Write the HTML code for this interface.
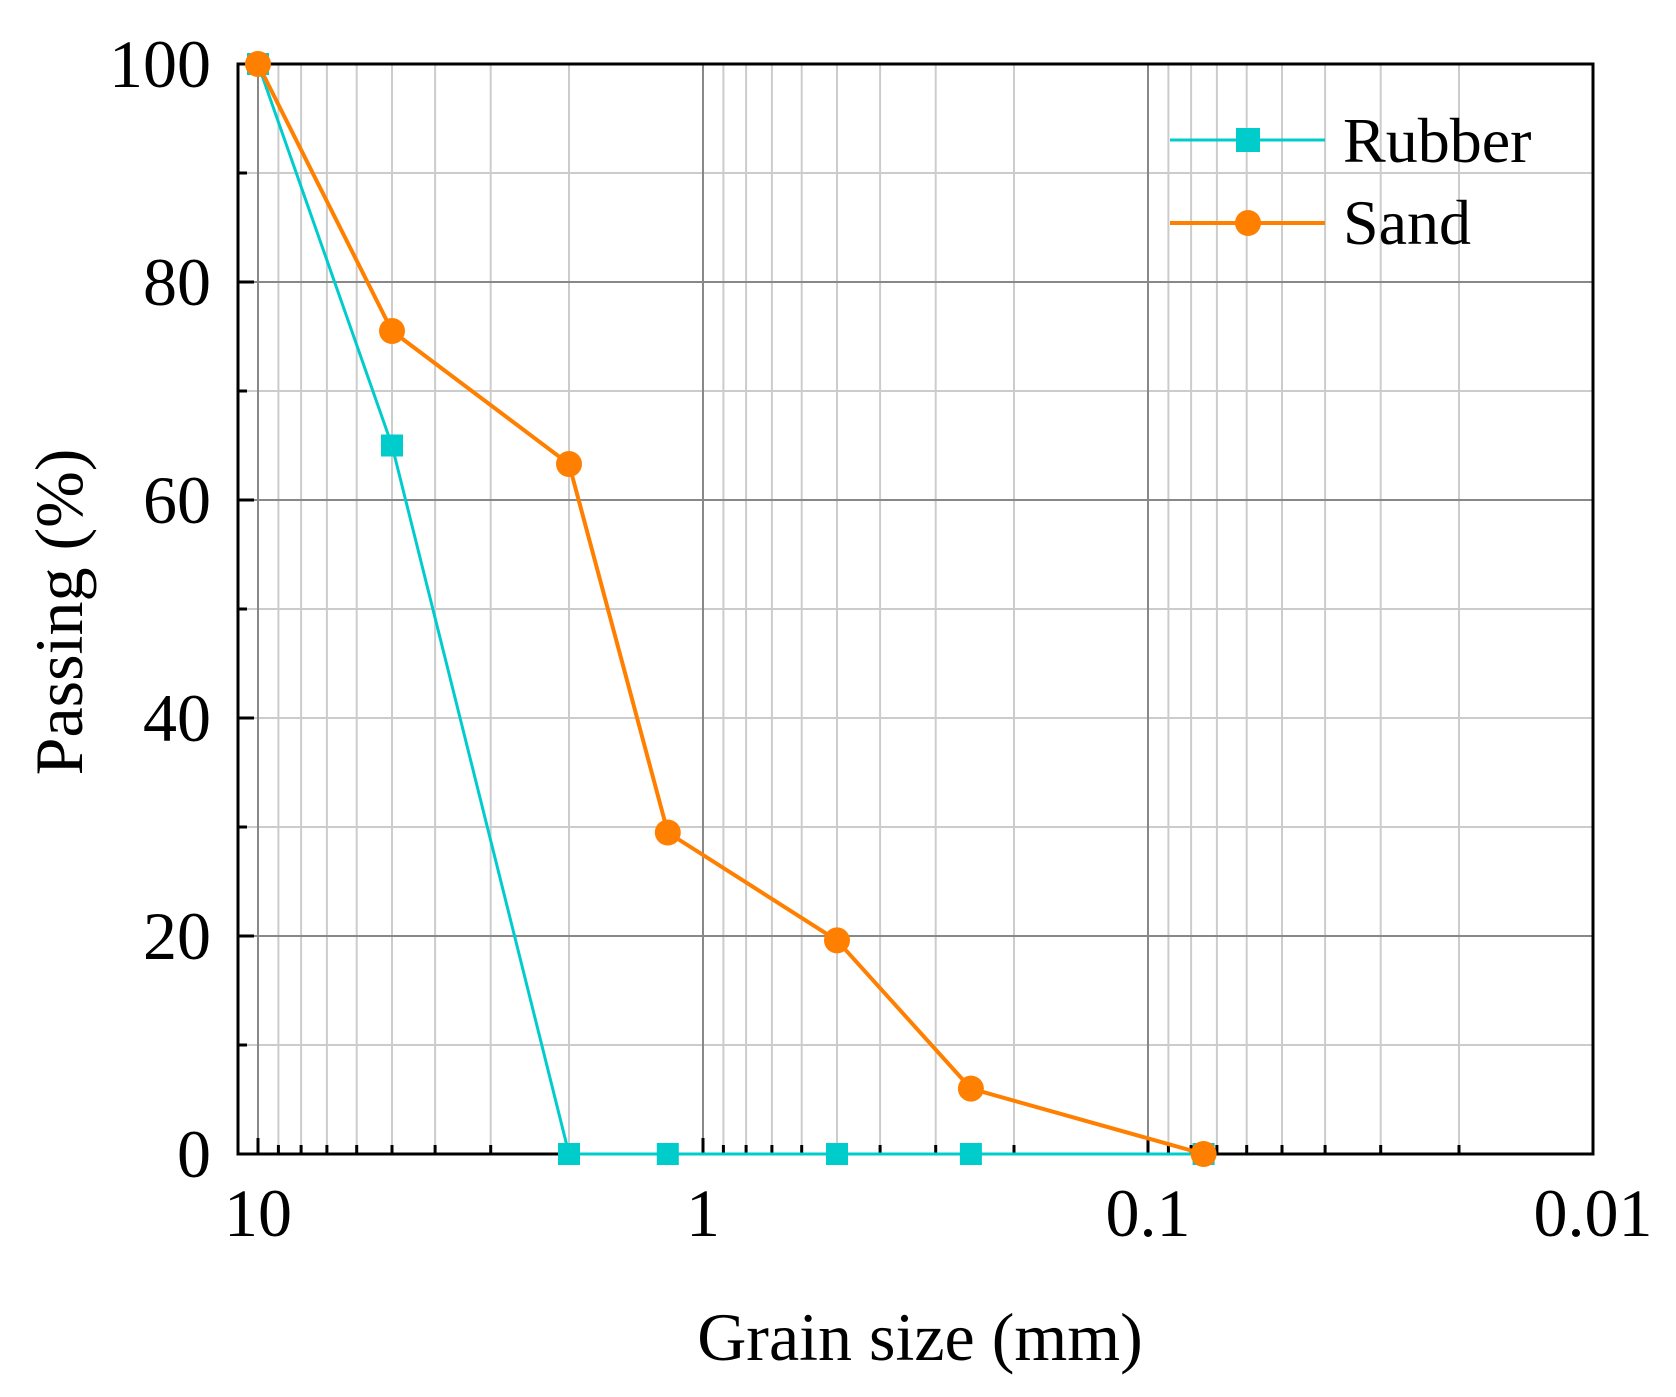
<!DOCTYPE html>
<html><head><meta charset="utf-8"><style>
html,body{margin:0;padding:0;background:#fff;}
svg{display:block;font-family:"Liberation Serif",serif;}
</style></head><body>
<svg width="1676" height="1397" viewBox="0 0 1676 1397" xmlns="http://www.w3.org/2000/svg">
<rect width="1676" height="1397" fill="#fff"/>
<!-- minor vertical grid -->
<path stroke="#ccc" stroke-width="2" fill="none" d="
M278.4 64V1154 M301.1 64V1154 M326.9 64V1154 M356.7 64V1154 M392 64V1154 M435.1 64V1154 M490.7 64V1154 M569 64V1154
M723.4 64V1154 M746.1 64V1154 M771.9 64V1154 M801.7 64V1154 M837 64V1154 M880.1 64V1154 M935.7 64V1154 M1014 64V1154
M1168.4 64V1154 M1191.1 64V1154 M1216.9 64V1154 M1246.7 64V1154 M1282 64V1154 M1325.1 64V1154 M1380.7 64V1154 M1459 64V1154
M238 1045H1593 M238 827H1593 M238 718H1593 M238 609H1593 M238 391H1593 M238 173H1593"/>
<!-- major grid -->
<path stroke="#888" stroke-width="2" fill="none" d="M258 64V1154 M703 64V1154 M1148 64V1154 M238 936H1593 M238 500H1593 M238 282H1593"/>
<!-- ticks -->
<path stroke="#000" stroke-width="3" fill="none" d="
M258 1154v-16 M703 1154v-16 M1148 1154v-16
M278.4 1154v-9 M301.1 1154v-9 M326.9 1154v-9 M356.7 1154v-9 M392 1154v-9 M435.1 1154v-9 M490.7 1154v-9 M569 1154v-9
M723.4 1154v-9 M746.1 1154v-9 M771.9 1154v-9 M801.7 1154v-9 M837 1154v-9 M880.1 1154v-9 M935.7 1154v-9 M1014 1154v-9
M1168.4 1154v-9 M1191.1 1154v-9 M1216.9 1154v-9 M1246.7 1154v-9 M1282 1154v-9 M1325.1 1154v-9 M1380.7 1154v-9 M1459 1154v-9
M238 936h16 M238 718h16 M238 500h16 M238 282h16
M238 1045h9 M238 827h9 M238 609h9 M238 391h9 M238 173h9"/>
<rect x="238" y="64" width="1355" height="1090" fill="none" stroke="#000" stroke-width="3"/>
<!-- y labels -->
<g font-size="68" text-anchor="end">
<text x="211" y="1177">0</text><text x="211" y="959">20</text><text x="211" y="741">40</text>
<text x="211" y="523">60</text><text x="211" y="305">80</text><text x="211" y="87">100</text>
</g>
<g font-size="68" text-anchor="middle">
<text x="258" y="1236">10</text><text x="703" y="1236">1</text><text x="1148" y="1236">0.1</text><text x="1593" y="1236">0.01</text>
</g>
<!-- rubber -->
<polyline points="258,64 392,445.5 569,1154 667.8,1154 837,1154 970.9,1154 1203.6,1154" fill="none" stroke="#00cccc" stroke-width="3"/>
<g fill="#00cccc">
<rect x="247" y="53" width="22" height="22"/><rect x="381" y="434.5" width="22" height="22"/>
<rect x="558" y="1143" width="22" height="22"/><rect x="656.8" y="1143" width="22" height="22"/>
<rect x="826" y="1143" width="22" height="22"/><rect x="959.9" y="1143" width="22" height="22"/>
<rect x="1192.6" y="1143" width="22" height="22"/>
</g>
<!-- sand -->
<polyline points="258,64 392,331 569,464 667.8,832.5 837,940.4 970.9,1088.6 1203.6,1154" fill="none" stroke="#ff8000" stroke-width="4"/>
<g fill="#ff8000">
<circle cx="258" cy="64" r="13"/><circle cx="392" cy="331" r="13"/><circle cx="569" cy="464" r="13"/>
<circle cx="667.8" cy="832.5" r="13"/><circle cx="837" cy="940.4" r="13"/><circle cx="970.9" cy="1088.6" r="13"/>
<circle cx="1203.6" cy="1154" r="13"/>
</g>
<!-- legend -->
<line x1="1170" y1="140" x2="1325" y2="140" stroke="#00cccc" stroke-width="3"/>
<rect x="1236" y="128" width="24" height="24" fill="#00cccc"/>
<line x1="1170" y1="223" x2="1325" y2="223" stroke="#ff8000" stroke-width="4"/>
<circle cx="1248" cy="223" r="13" fill="#ff8000"/>
<text x="1343" y="162" font-size="64">Rubber</text>
<text x="1343" y="244" font-size="64">Sand</text>
<text x="920" y="1360" font-size="68" text-anchor="middle">Grain size (mm)</text>
<text transform="translate(82,612) rotate(-90)" font-size="68" text-anchor="middle">Passing (%)</text>
</svg>
</body></html>
